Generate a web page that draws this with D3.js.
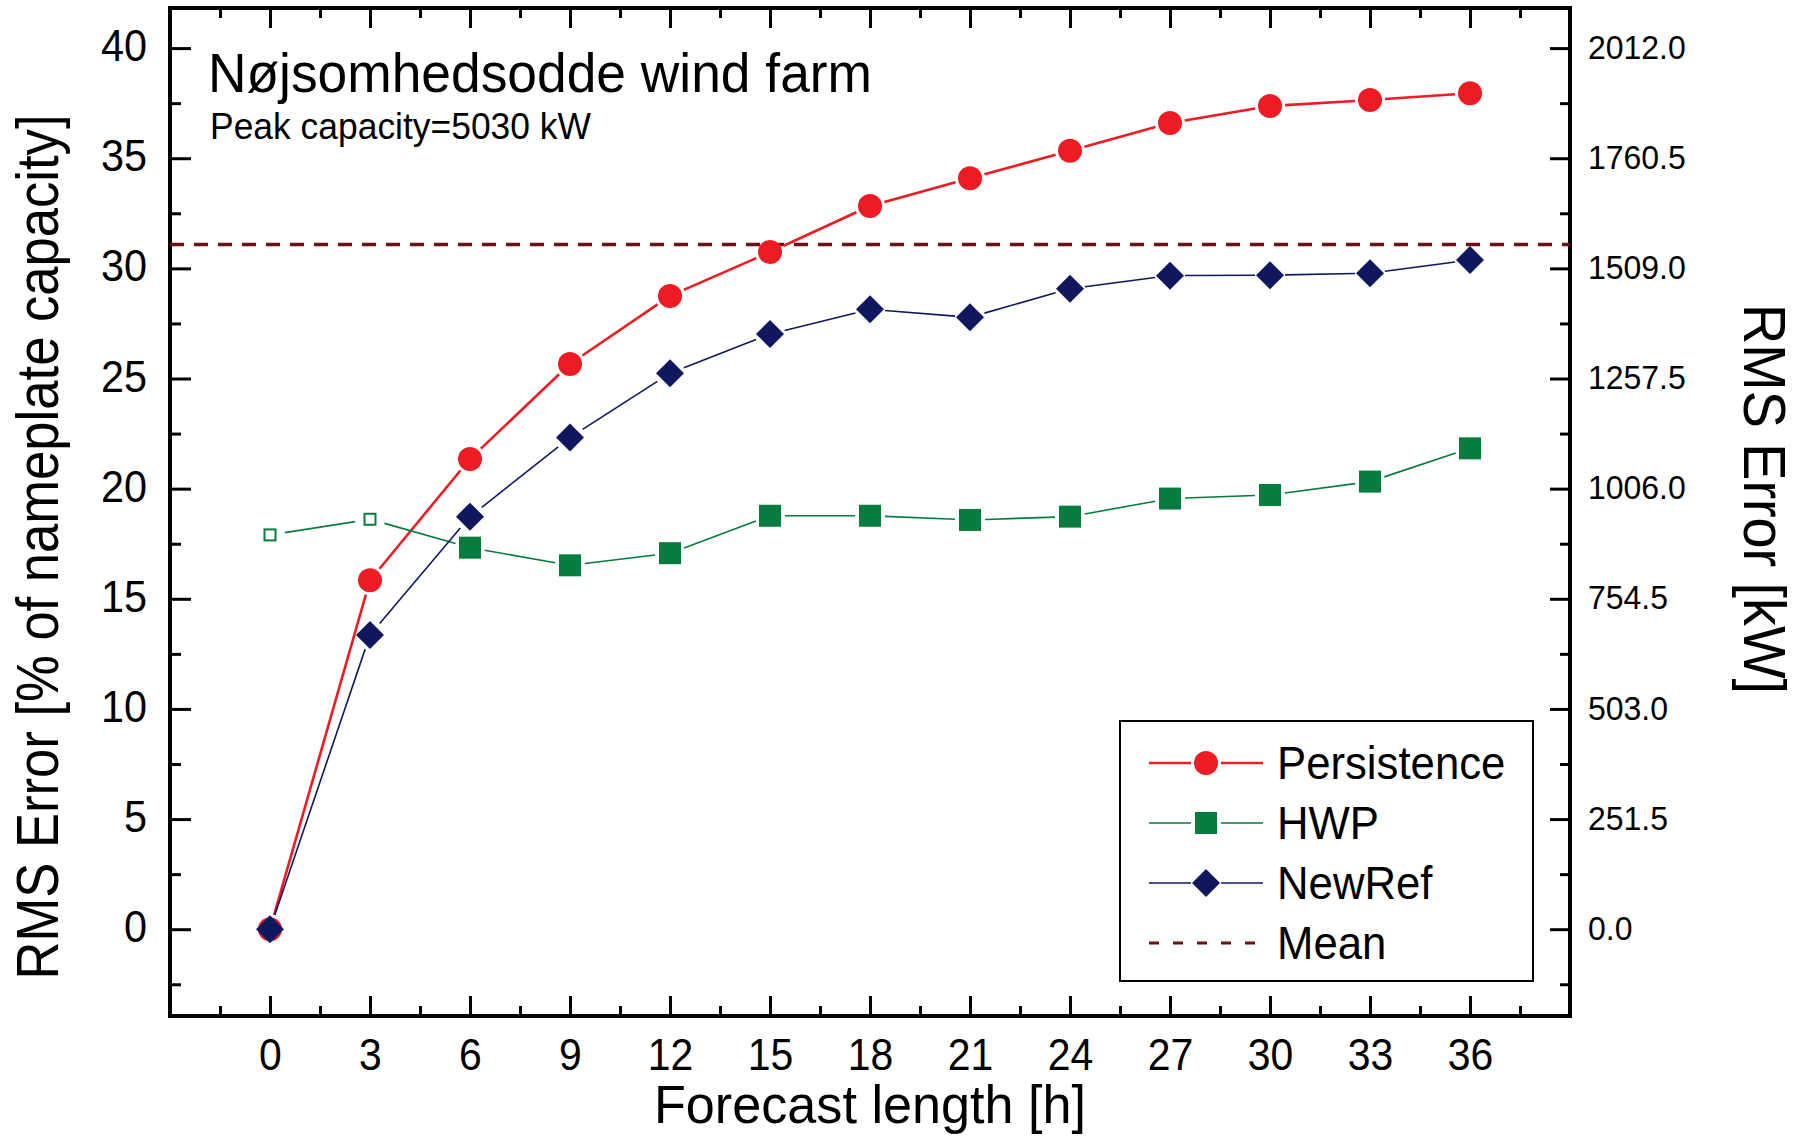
<!DOCTYPE html>
<html>
<head>
<meta charset="utf-8">
<script src="https://cdn.jsdelivr.net/npm/d3@7"></script>
<style>
  html, body { margin: 0; padding: 0; background: #fff; }
  svg { display: block; font-family: "Liberation Sans", Arial, Helvetica, sans-serif; }
</style>
</head>
<body>
<svg id="chart" width="1797" height="1136"></svg>
<script>
// forecast length in hours
const hours = [0, 3, 6, 9, 12, 15, 18, 21, 24, 27, 30, 33, 36];
// RMS error in % of nameplate capacity
const persistence = [0, 15.84, 21.35, 25.66, 28.75, 30.74, 32.83, 34.09, 35.34, 36.6, 37.37, 37.64, 37.95];
const hwp = [17.9, 18.61, 17.32, 16.52, 17.07, 18.77, 18.77, 18.58, 18.73, 19.55, 19.71, 20.32, 21.83];
const hwpOpenHours = [0, 3]; // drawn as hollow squares
const newRef = [0, 13.36, 18.73, 22.32, 25.24, 27.02, 28.14, 27.78, 29.08, 29.67, 29.69, 29.78, 30.38];
const meanValue = 31.08;
const peakCapacity = 5030; // kW

const xTicks = d3.range(0, 37, 3);
const xMinor = d3.range(-1.5, 39, 3);
const yTicks = d3.range(0, 41, 5);
const yMinor = d3.range(-2.5, 41, 5);

const colors = {
  persistence: '#ed1c24',
  hwp: '#077c3e',
  newRef: '#0f185e',
  mean: '#6b1014',
};

const svg = d3.select('#chart');
const plot = { left: 170, right: 1570, top: 8, bottom: 1016 };

const x = d3.scaleLinear().domain([-3, 39]).range([plot.left, plot.right]);
const y = d3.scaleLinear().domain([-3.94, 41.82]).range([plot.bottom, plot.top]);

// the original font is a bit narrower than Liberation Sans: squeeze the glyphs
function condense(sel, k) {
  sel.each(function () {
    const w = this.getComputedTextLength();
    d3.select(this).attr('textLength', w * k).attr('lengthAdjust', 'spacingAndGlyphs');
  });
}

// ---- axes ----
function styleAxis(g) {
  g.select('.domain').remove();
  g.selectAll('.tick line').attr('stroke', '#000').attr('stroke-width', 3);
  g.selectAll('.tick text').attr('fill', '#000');
}

svg.append('g')
  .attr('transform', `translate(0,${plot.bottom})`)
  .call(d3.axisBottom(x).tickValues(xTicks).tickSize(-20).tickPadding(23))
  .call(styleAxis)
  .selectAll('text').style('font-size', '44px').call(condense, 0.93);
svg.append('g')
  .attr('transform', `translate(0,${plot.bottom})`)
  .call(d3.axisBottom(x).tickValues(xMinor).tickSize(-10).tickFormat(''))
  .call(styleAxis);
svg.append('g')
  .attr('transform', `translate(0,${plot.top})`)
  .call(d3.axisTop(x).tickValues(xTicks).tickSize(-20).tickFormat(''))
  .call(styleAxis);
svg.append('g')
  .attr('transform', `translate(0,${plot.top})`)
  .call(d3.axisTop(x).tickValues(xMinor).tickSize(-10).tickFormat(''))
  .call(styleAxis);

svg.append('g')
  .attr('transform', `translate(${plot.left},0)`)
  .call(d3.axisLeft(y).tickValues(yTicks).tickSize(-21).tickPadding(23))
  .call(styleAxis)
  .selectAll('text').style('font-size', '45px').attr('dy', '0.28em').call(condense, 0.92);
svg.append('g')
  .attr('transform', `translate(${plot.left},0)`)
  .call(d3.axisLeft(y).tickValues(yMinor).tickSize(-11).tickFormat(''))
  .call(styleAxis);

svg.append('g')
  .attr('transform', `translate(${plot.right},0)`)
  .call(d3.axisRight(y).tickValues(yTicks).tickSize(-20).tickPadding(18)
    .tickFormat(d => (d * peakCapacity / 100).toFixed(1)))
  .call(styleAxis)
  .selectAll('text').style('font-size', '34px').attr('dy', '0.3em').call(condense, 0.94);
svg.append('g')
  .attr('transform', `translate(${plot.right},0)`)
  .call(d3.axisRight(y).tickValues(yMinor).tickSize(-10).tickFormat(''))
  .call(styleAxis);

// frame
svg.append('rect')
  .attr('x', plot.left).attr('y', plot.top)
  .attr('width', plot.right - plot.left).attr('height', plot.bottom - plot.top)
  .attr('fill', 'none').attr('stroke', '#000').attr('stroke-width', 4);

// ---- axis titles ----
svg.append('text')
  .attr('x', (plot.left + plot.right) / 2).attr('y', 1123)
  .attr('text-anchor', 'middle')
  .style('font-size', '54px')
  .text('Forecast length [h]')
  .attr('textLength', 432).attr('lengthAdjust', 'spacingAndGlyphs');

svg.append('text')
  .attr('transform', 'translate(58,547) rotate(-90)')
  .attr('text-anchor', 'middle')
  .style('font-size', '59px')
  .text('RMS Error [% of nameplate capacity]')
  .attr('textLength', 865).attr('lengthAdjust', 'spacingAndGlyphs');

svg.append('text')
  .attr('transform', 'translate(1744,499) rotate(90)')
  .attr('text-anchor', 'middle')
  .style('font-size', '60px')
  .text('RMS Error [kW]')
  .attr('textLength', 390).attr('lengthAdjust', 'spacingAndGlyphs');

// ---- title ----
svg.append('text')
  .attr('x', 208).attr('y', 92)
  .style('font-size', '55px')
  .text('Nøjsomhedsodde wind farm')
  .attr('textLength', 664).attr('lengthAdjust', 'spacingAndGlyphs');
svg.append('text')
  .attr('x', 210).attr('y', 139)
  .style('font-size', '37px')
  .text('Peak capacity=5030 kW')
  .attr('textLength', 381).attr('lengthAdjust', 'spacingAndGlyphs');

// ---- mean line ----
svg.append('line')
  .attr('x1', plot.left).attr('x2', plot.right)
  .attr('y1', y(meanValue)).attr('y2', y(meanValue))
  .attr('stroke', colors.mean).attr('stroke-width', 3.5)
  .attr('stroke-dasharray', '14,10');

// ---- series ----
const gap = 15;

// segments between neighbouring points, cut short around the symbols
function gappedSegments(values) {
  const pts = hours.map((h, i) => [x(h), y(values[i])]);
  const segs = [];
  for (let i = 0; i < pts.length - 1; i++) {
    const [x1, y1] = pts[i];
    const [x2, y2] = pts[i + 1];
    const len = Math.hypot(x2 - x1, y2 - y1);
    if (len <= 2 * gap) continue;
    const ux = (x2 - x1) / len, uy = (y2 - y1) / len;
    segs.push([[x1 + ux * gap, y1 + uy * gap], [x2 - ux * gap, y2 - uy * gap]]);
  }
  return segs;
}

function drawSymbol(g, type, cx, cy, color, open) {
  if (type === 'circle') {
    g.append('circle').attr('cx', cx).attr('cy', cy).attr('r', 12).attr('fill', color);
  } else if (type === 'square') {
    const s = open ? 11 : 22;
    g.append('rect')
      .attr('x', cx - s / 2).attr('y', cy - s / 2).attr('width', s).attr('height', s)
      .attr('fill', open ? '#fff' : color)
      .attr('stroke', open ? color : 'none').attr('stroke-width', 2);
  } else {
    const r = 14;
    g.append('path')
      .attr('d', `M${cx},${cy - r}L${cx + r},${cy}L${cx},${cy + r}L${cx - r},${cy}Z`)
      .attr('fill', color);
  }
}

const series = [
  { key: 'persistence', name: 'Persistence', values: persistence, symbol: 'circle', width: 2.6 },
  { key: 'hwp', name: 'HWP', values: hwp, symbol: 'square', width: 1.6 },
  { key: 'newRef', name: 'NewRef', values: newRef, symbol: 'diamond', width: 1.6 },
];

series.forEach(s => {
  const g = svg.append('g').attr('class', `series-${s.key}`);
  g.selectAll('line')
    .data(gappedSegments(s.values))
    .enter()
    .append('line')
    .attr('x1', d => d[0][0]).attr('y1', d => d[0][1])
    .attr('x2', d => d[1][0]).attr('y2', d => d[1][1])
    .attr('stroke', colors[s.key]).attr('stroke-width', s.width);
  hours.forEach((h, i) => {
    const open = s.key === 'hwp' && hwpOpenHours.includes(h);
    drawSymbol(g, s.symbol, x(h), y(s.values[i]), colors[s.key], open);
  });
});

// ---- legend ----
const legend = svg.append('g').attr('class', 'legend');
legend.append('rect')
  .attr('x', 1120).attr('y', 721).attr('width', 413).attr('height', 260)
  .attr('fill', '#fff').attr('stroke', '#000').attr('stroke-width', 2);

const legendItems = series.concat([{ key: 'mean', name: 'Mean', symbol: null, width: 3 }]);
legendItems.forEach((s, i) => {
  const cy = 763 + i * 60;
  const g = legend.append('g');
  if (s.symbol) {
    g.append('line').attr('x1', 1149).attr('x2', 1191).attr('y1', cy).attr('y2', cy)
      .attr('stroke', colors[s.key]).attr('stroke-width', s.width);
    g.append('line').attr('x1', 1221).attr('x2', 1263).attr('y1', cy).attr('y2', cy)
      .attr('stroke', colors[s.key]).attr('stroke-width', s.width);
    drawSymbol(g, s.symbol, 1206, cy, colors[s.key], false);
  } else {
    g.append('line').attr('x1', 1149).attr('x2', 1263).attr('y1', cy).attr('y2', cy)
      .attr('stroke', colors.mean).attr('stroke-width', 3)
      .attr('stroke-dasharray', '10,14');
  }
  g.append('text')
    .attr('x', 1277).attr('y', cy + 16)
    .style('font-size', '47px')
    .text(s.name)
    .call(condense, 0.93);
});
</script>
</body>
</html>
